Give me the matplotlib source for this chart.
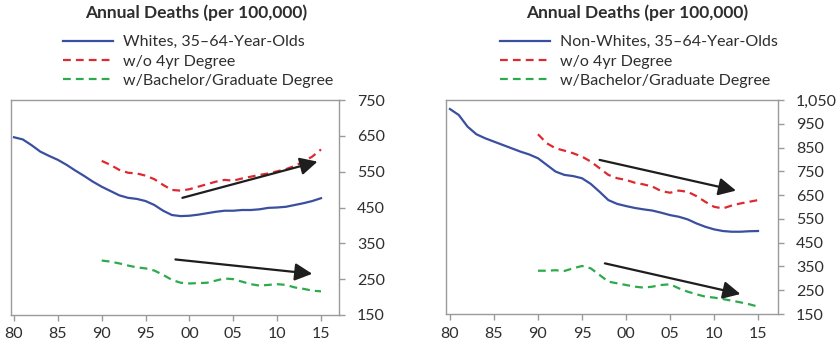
import matplotlib
matplotlib.use("Agg")
import matplotlib.pyplot as plt
from matplotlib.ticker import FuncFormatter, FixedLocator

plt.rcParams['font.family'] = ['Lato', 'DejaVu Sans']

# ---------------- data ----------------
years_all = list(range(1980, 2016))
years_90 = list(range(1990, 2016))

white_total = [646, 640, 624, 606, 594, 583, 569, 553, 538, 522,
               508, 496, 484, 477, 474, 468, 457, 441, 429, 426,
               427, 430, 434, 438, 441, 441, 443, 443, 445, 449,
               450, 452, 457, 462, 468, 476]
white_no_degree = [580, 569, 555, 547, 545, 539, 529, 513, 499, 497,
                   501, 508, 515, 522, 527, 525, 531, 536, 541, 545,
                   551, 557, 566, 578, 592, 612]
white_degree = [302, 299, 294, 288, 283, 280, 274, 262, 248, 240,
                238, 239, 240, 246, 252, 250, 243, 236, 232, 234,
                236, 234, 227, 223, 218, 216]

nonwhite_total = [1012, 987, 938, 906, 889, 875, 861, 847, 833, 821,
                  805, 777, 749, 735, 730, 721, 697, 664, 629, 613,
                  604, 596, 590, 585, 576, 566, 559, 548, 531, 517,
                  506, 499, 496, 496, 498, 499]
nonwhite_no_degree = [906, 868, 847, 837, 826, 812, 791, 763, 735, 721,
                      714, 702, 695, 686, 667, 660, 669, 664, 646, 622,
                      601, 594, 606, 615, 622, 629]
nonwhite_degree = [332, 332, 334, 331, 342, 352, 342, 314, 286, 279,
                   272, 265, 261, 265, 272, 275, 258, 244, 233, 223,
                   219, 213, 206, 199, 191, 181]

# trend arrows: (x0, y0, x1, y1)
white_arrows = [(1999.2, 477, 2014.6, 578), (1998.4, 305, 2014.0, 265)]
nonwhite_arrows = [(1997.0, 798, 2012.5, 669), (1997.6, 363, 2013.0, 234)]

x_ticks = [1980, 1985, 1990, 1995, 2000, 2005, 2010, 2015]
left_yticks = [150, 250, 350, 450, 550, 650, 750]
right_yticks = [150, 250, 350, 450, 550, 650, 750, 850, 950, 1050]

labels_left = ['Whites, 35–64-Year-Olds', 'w/o 4yr Degree', 'w/Bachelor/Graduate Degree']
labels_right = ['Non-Whites, 35–64-Year-Olds', 'w/o 4yr Degree', 'w/Bachelor/Graduate Degree']
title = 'Annual Deaths (per 100,000)'

# ---------------- style ----------------
BLUE = '#3a4f9f'
RED = '#dd2a30'
GREEN = '#2daa4c'
SPINE = '#9a9a9a'
TXT = '#2e2e2e'

W, H = 840, 346
fig = plt.figure(figsize=(W / 100, H / 100), dpi=100)


def px_axes(x0, y0, x1, y1):
    return fig.add_axes([x0 / W, 1 - y1 / H, (x1 - x0) / W, (y1 - y0) / H])


def style(ax, yticks, ylim, xlim):
    ax.set_xlim(*xlim)
    ax.set_ylim(*ylim)
    for s in ax.spines.values():
        s.set_color(SPINE)
        s.set_linewidth(1.0)
    ax.yaxis.tick_right()
    ax.yaxis.set_major_locator(FixedLocator(yticks))
    ax.yaxis.set_major_formatter(FuncFormatter(lambda v, p: f'{int(v):,}'))
    ax.xaxis.set_major_locator(FixedLocator(x_ticks))
    ax.xaxis.set_major_formatter(FuncFormatter(lambda v, p: f'{int(v) % 100:02d}'))
    ax.tick_params(axis='both', direction='out', length=4, width=1.0, color=SPINE,
                   labelsize=11.5, labelcolor=TXT)
    ax.tick_params(axis='y', pad=9)
    ax.tick_params(axis='x', pad=5)


def draw(ax, tot, nod, deg, arrows, labels):
    l1, = ax.plot(years_all, tot, color=BLUE, lw=1.6, label=labels[0])
    l2, = ax.plot(years_90, nod, color=RED, lw=1.6, dashes=(3.5, 2.3), label=labels[1])
    l3, = ax.plot(years_90, deg, color=GREEN, lw=1.6, dashes=(3.5, 2.3), label=labels[2])
    for x0, y0, x1, y1 in arrows:
        ax.annotate('', xy=(x1, y1), xytext=(x0, y0),
                    arrowprops=dict(arrowstyle='-|>,head_length=0.75,head_width=0.38',
                                    color='#1e1e1e', lw=1.6, shrinkA=0, shrinkB=0,
                                    mutation_scale=14))
    return [l1, l2, l3]


axL = px_axes(11, 100, 339, 315)
style(axL, left_yticks, (150, 750), (1979.66, 2017.05))
hL = draw(axL, white_total, white_no_degree, white_degree, white_arrows, labels_left)

axR = px_axes(446, 100, 778, 314)
style(axR, right_yticks, (150, 1050), (1979.55, 2017.27))
hR = draw(axR, nonwhite_total, nonwhite_no_degree, nonwhite_degree, nonwhite_arrows, labels_right)

fig.text(196 / W, 1 - 13 / H, title, ha='center', va='center', fontsize=12.5,
         fontweight='bold', color=TXT)
fig.text(637 / W, 1 - 13 / H, title, ha='center', va='center', fontsize=12.5,
         fontweight='bold', color=TXT)

for h, x in ((hL, 63), (hR, 500)):
    fig.legend(handles=h, loc='upper left', bbox_to_anchor=(x / W, 1 - 35 / H),
               frameon=False, fontsize=11.5, handlelength=3.1, handletextpad=0.65,
               labelspacing=0.33, borderpad=0, borderaxespad=0, labelcolor=TXT)

fig.savefig('out.png', dpi=100)
